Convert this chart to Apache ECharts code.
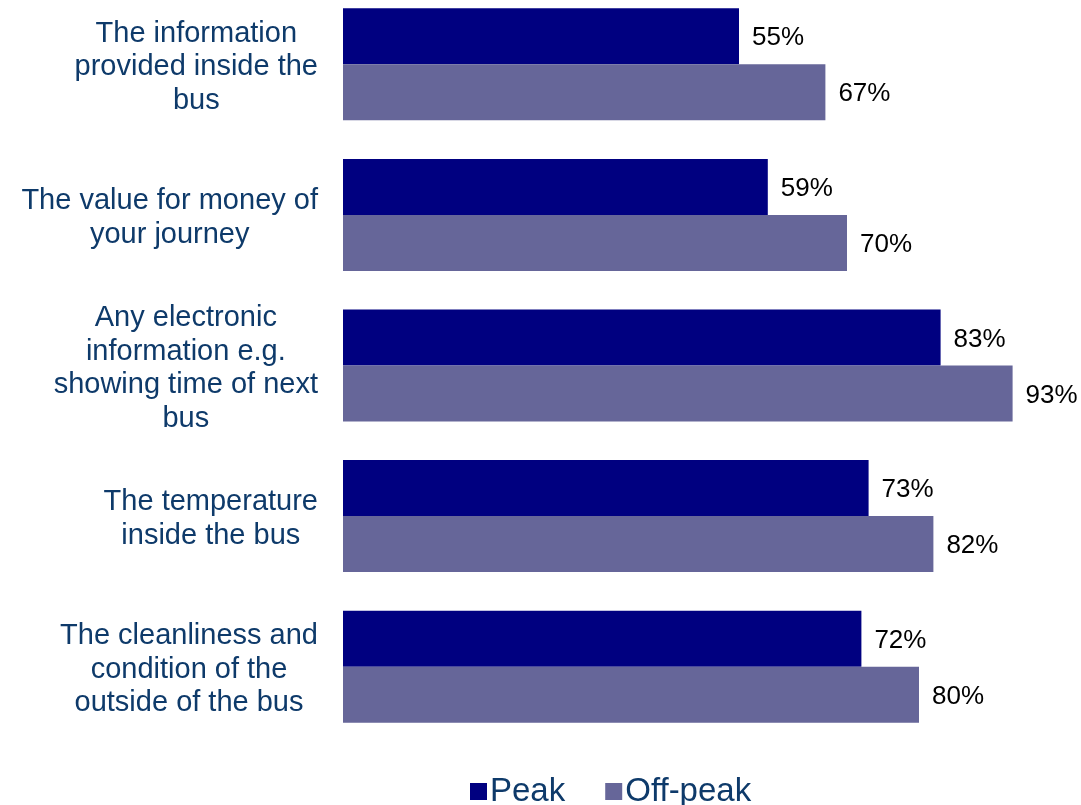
<!DOCTYPE html>
<html>
<head>
<meta charset="utf-8">
<script src="https://cdn.jsdelivr.net/npm/echarts@6/dist/echarts.min.js"></script>
<style>
html,body{margin:0;padding:0;background:#fff;}
#chart{width:1081px;height:805px;}
</style>
</head>
<body>
<div id="chart"></div>
<script>
const categories = [
  "The information\nprovided inside the\nbus",
  "The value for money of\nyour journey",
  "Any electronic\ninformation e.g.\nshowing time of next\nbus",
  "The temperature\ninside the bus",
  "The cleanliness and\ncondition of the\noutside of the bus"
];
const peak = [55, 59, 83, 73, 72];
const offPeak = [67, 70, 93, 82, 80];
const seriesNames = ["Peak", "Off-peak"];

const chart = echarts.init(document.getElementById('chart'), null, {renderer: 'canvas'});
const labelColor = '#0E3A6A';
const fontFam = '"Liberation Sans", Arial, sans-serif';

chart.setOption({
  animation: false,
  textStyle: {fontFamily: fontFam},
  grid: {left: 343, right: 18, top: -11, height: 753, containLabel: false, outerBoundsMode: 'none'},
  legend: {
    top: 775,
    left: 470,
    itemWidth: 17,
    itemHeight: 17,
    itemGap: 40,
    icon: 'rect',
    padding: 0,
    textStyle: {fontSize: 33, color: labelColor, fontFamily: fontFam, padding: [0,0,0,-2]},
    data: seriesNames
  },
  xAxis: {
    type: 'value', min: 0, max: 100, show: false
  },
  yAxis: {
    type: 'category',
    inverse: true,
    data: categories,
    axisLine: {show: false},
    axisTick: {show: false},
    axisLabel: {
      margin: 25,
      align: 'right',
      color: labelColor,
      fontSize: 29,
      lineHeight: 33.5,
      padding: [6, 0, 0, 0],
      fontFamily: fontFam,
      formatter: function (v) {
        return v.split('\n').map(function (l) { return '{a|' + l + '}'; }).join('\n');
      },
      rich: {a: {align: 'center', fontSize: 29, lineHeight: 33.5, color: labelColor, fontFamily: fontFam}}
    }
  },
  series: [
    {
      name: seriesNames[0], type: 'bar', data: peak, barWidth: 56, barGap: '0%',
      itemStyle: {color: '#000080'},
      label: {show: true, position: 'right', distance: 13, offset: [0, 2], formatter: '{c}%', color: '#000', fontSize: 26, fontFamily: fontFam}
    },
    {
      name: seriesNames[1], type: 'bar', data: offPeak, barWidth: 56, barGap: '0%',
      itemStyle: {color: '#666699'},
      label: {show: true, position: 'right', distance: 13, offset: [0, 2], formatter: '{c}%', color: '#000', fontSize: 26, fontFamily: fontFam}
    }
  ]
});
</script>
</body>
</html>
